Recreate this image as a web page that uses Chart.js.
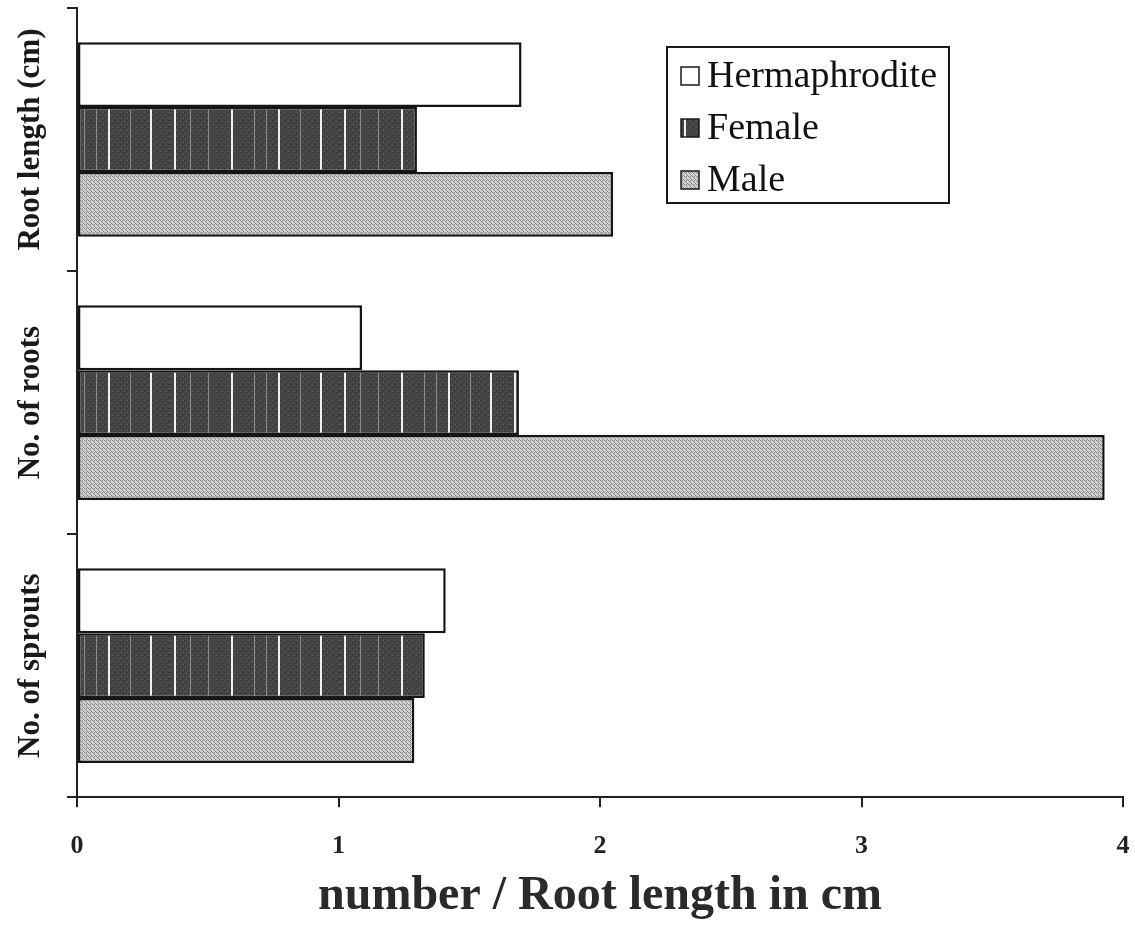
<!DOCTYPE html>
<html>
<head>
<meta charset="utf-8">
<script src="https://cdn.jsdelivr.net/npm/chart.js@4/dist/chart.umd.min.js"></script>
<style>
  html, body { margin: 0; padding: 0; background: #fff; }
  #wrap { width: 1135px; height: 944px; }
</style>
</head>
<body>
<div id="wrap"><canvas id="chart"></canvas></div>
<script>
let categories = ["Root length (cm)", "No. of roots", "No. of sprouts"];
let hermaphrodite = [1.70, 1.09, 1.41];
let female = [1.30, 1.69, 1.33];
let male = [2.05, 3.93, 1.29];
let seriesNames = ["Hermaphrodite", "Female", "Male"];
let xTicks = [0, 1, 2, 3, 4];

// texture fills, like the scanned print
function femalePattern() {
  var c = document.createElement('canvas');
  c.width = 170; c.height = 6;
  var g = c.getContext('2d');
  g.fillStyle = '#454545';
  g.fillRect(0, 0, 170, 6);
  g.fillStyle = '#2a2a2a';
  for (var x = 0; x < 170; x += 2) g.fillRect(x, (x * 5) % 6, 1, 1);
  g.fillStyle = '#666';
  for (var x2 = 1; x2 < 170; x2 += 3) g.fillRect(x2, (x2 * 7 + 3) % 6, 1, 1);
  g.fillStyle = '#f0f0f0';
  [4, 61, 108, 150].forEach(function (x) { g.fillRect(x, 0, 2, 6); });
  g.fillStyle = '#8a8a8a';
  [20, 38, 84, 96, 130].forEach(function (x) { g.fillRect(x, 0, 1, 6); });
  return g.createPattern(c, 'repeat');
}

function malePattern() {
  var c = document.createElement('canvas');
  c.width = 4; c.height = 4;
  var g = c.getContext('2d');
  g.fillStyle = '#d0d0d0';
  g.fillRect(0, 0, 4, 4);
  g.fillStyle = '#8a8a8a';
  g.fillRect(0, 0, 1, 1); g.fillRect(1, 1, 1, 1); g.fillRect(2, 2, 1, 1); g.fillRect(3, 3, 1, 1);
  g.fillRect(2, 0, 1, 1);
  return g.createPattern(c, 'repeat');
}

var serif = "'Liberation Serif', 'Times New Roman', serif";

var yLabelsPlugin = {
  id: 'yLabels',
  afterDraw(chart) {
    var ctx = chart.ctx;
    var y = chart.scales.y;
    ctx.save();
    ctx.font = 'bold 31px ' + serif;
    ctx.fillStyle = '#1a1a1a';
    ctx.textAlign = 'center';
    ctx.textBaseline = 'middle';
    categories.forEach(function (lab, i) {
      ctx.save();
      ctx.translate(31, y.getPixelForValue(i));
      ctx.rotate(-Math.PI / 2);
      ctx.fillText(lab, 0, 0);
      ctx.restore();
    });
    ctx.restore();
  }
};

var legendPlugin = {
  id: 'boxLegend',
  afterDraw(chart) {
    var ctx = chart.ctx;
    ctx.save();
    ctx.lineWidth = 2;
    ctx.strokeStyle = '#1a1a1a';
    ctx.strokeRect(667, 47, 282, 156);
    ctx.font = '38px ' + serif;
    ctx.textBaseline = 'middle';
    chart.data.datasets.forEach(function (ds, i) {
      var cy = 76 + i * 52;
      ctx.fillStyle = ds.backgroundColor;
      ctx.fillRect(681, cy - 9, 18, 18);
      ctx.lineWidth = 1.5;
      ctx.strokeRect(681, cy - 9, 18, 18);
      ctx.fillStyle = '#111';
      ctx.fillText(ds.label, 707, cy + 1);
    });
    ctx.restore();
  }
};

var ctx = document.getElementById('chart');
new Chart(ctx, {
  type: 'bar',
  data: {
    labels: categories,
    datasets: [
      { label: seriesNames[0], data: hermaphrodite, backgroundColor: '#ffffff' },
      { label: seriesNames[1], data: female, backgroundColor: femalePattern() },
      { label: seriesNames[2], data: male, backgroundColor: malePattern() }
    ]
  },
  options: {
    indexAxis: 'y',
    responsive: true,
    maintainAspectRatio: false,
    animation: false,
    datasets: {
      bar: {
        borderColor: '#151515',
        borderWidth: 2.5,
        borderSkipped: false,
        categoryPercentage: 0.74,
        barPercentage: 1.0
      }
    },
    layout: { padding: { left: 67, right: 0, top: 8, bottom: 19 } },
    plugins: {
      legend: { display: false },
      tooltip: { enabled: false }
    },
    scales: {
      x: {
        type: 'linear',
        min: xTicks[0],
        max: xTicks[xTicks.length - 1],
        afterBuildTicks(scale) { scale.ticks = xTicks.map(function (v) { return { value: v }; }); },
        // keep only a small margin at the right for the "4" label
        afterFit(scale) { scale.paddingRight = 12; },
        grid: { drawOnChartArea: false, drawTicks: true, tickLength: 10, color: '#222', lineWidth: 2 },
        border: { color: '#222', width: 2 },
        ticks: {
          padding: 23,
          color: '#222',
          font: { family: serif, size: 26, weight: 'bold' }
        },
        title: {
          display: true,
          text: 'number / Root length in cm',
          color: '#2a2a2a',
          font: { family: serif, size: 48, weight: 'bold' },
          padding: { top: -17, bottom: 0 }
        }
      },
      y: {
        ticks: { display: false },
        grid: { drawOnChartArea: false, drawTicks: true, tickLength: 10, offset: true, color: '#222', lineWidth: 2 },
        border: { color: '#222', width: 2 }
      }
    }
  },
  plugins: [yLabelsPlugin, legendPlugin]
});
</script>
</body>
</html>
